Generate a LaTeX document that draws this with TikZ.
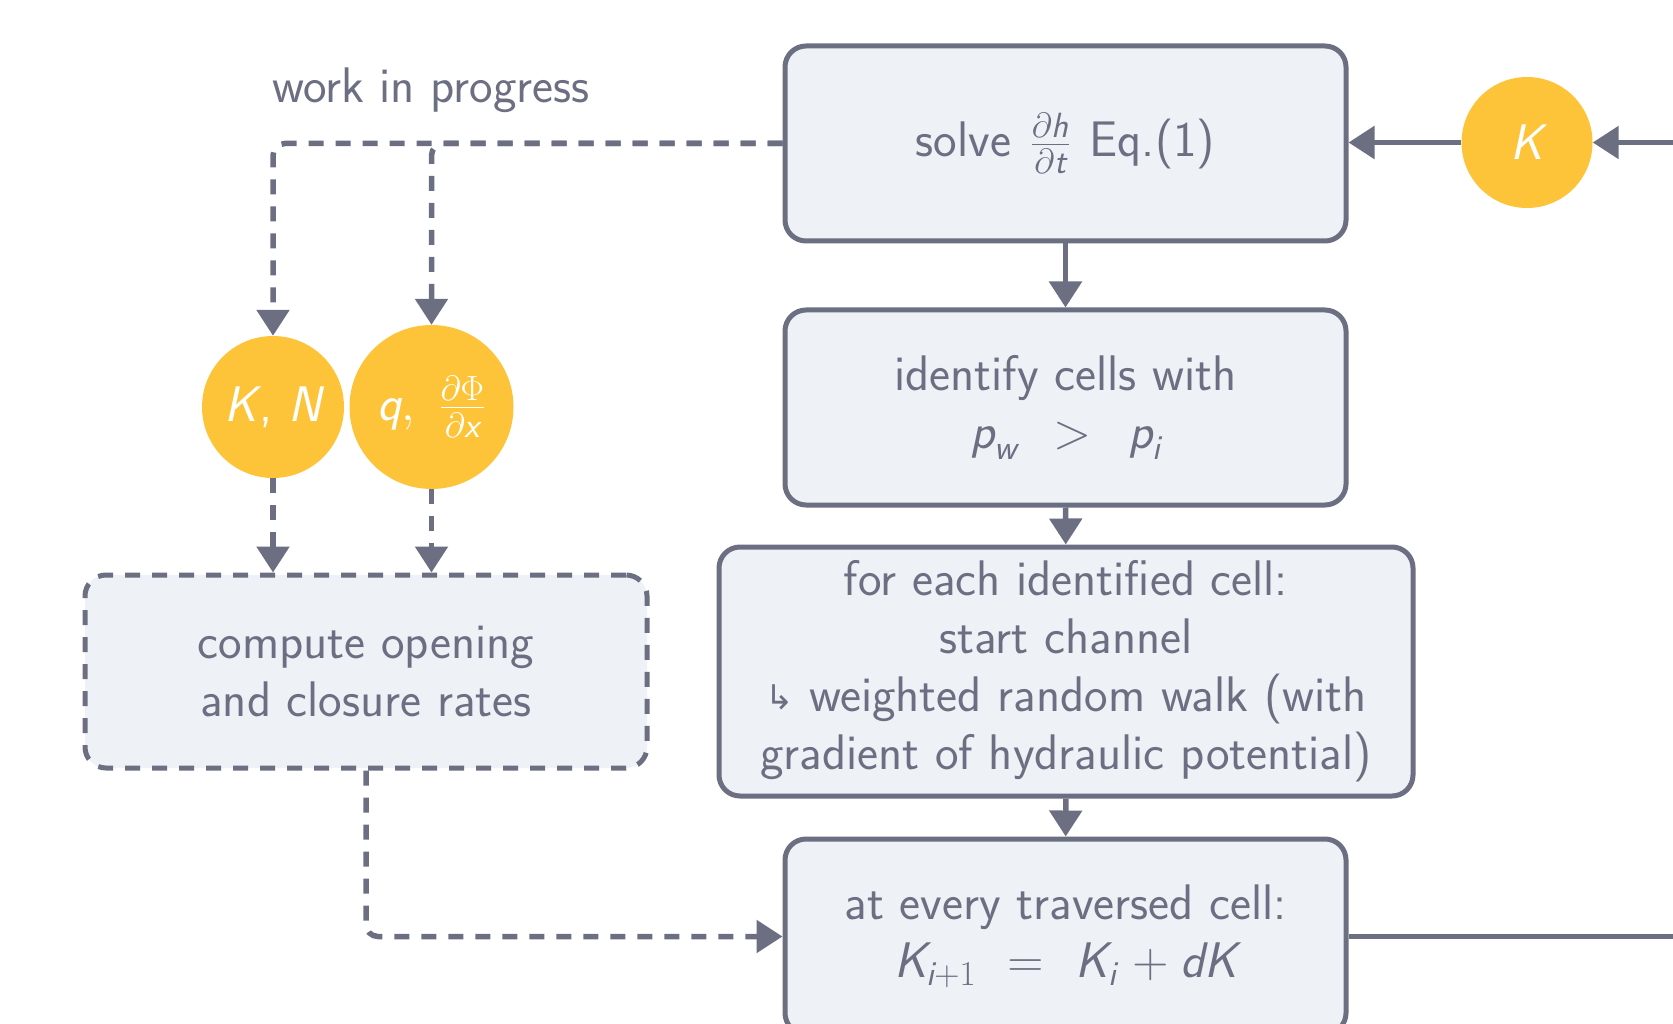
\RequirePackage{fix-cm}
\documentclass[tikz,border=0pt]{standalone}
\usepackage{fontspec}
\usepackage{amsmath}
\usetikzlibrary{arrows.meta}
\newfontfamily\symfont{DejaVu Sans}
\definecolor{linec}{RGB}{108,111,130}
\definecolor{boxfill}{RGB}{238,241,246}
\definecolor{yel}{RGB}{254,196,57}
\newcommand{\vi}[1]{\text{\itshape #1}}
\begin{document}
\begin{tikzpicture}[x=1pt,y=-1pt,
  every node/.style={font=\sffamily\fontsize{50}{58}\selectfont, text=linec},
  stepbox/.style={draw=linec, fill=boxfill, line width=5pt, rounded corners=21pt, inner sep=0pt, align=center},
  blob/.style={circle, fill=yel, text=white, inner sep=0pt},
  conn/.style={draw=linec, line width=5.5pt, -{Triangle[length=26pt,width=32pt]}},
  dconn/.style={conn, dash pattern=on 15pt off 12pt, rounded corners=12pt},
]
\useasboundingbox (0,0) rectangle (1673,1024);
\clip (0,0) rectangle (1673,1024);

\node[stepbox, minimum width=561pt, minimum height=195pt] (b1) at (1065.5,143.5)
  {solve \hspace{4pt}\(\frac{\partial\vi{h}}{\partial\vi{t}}\)\hspace{4pt} Eq.(1)};
\node[stepbox, minimum width=561pt, minimum height=195pt] (b2) at (1065.5,407.5)
  {identify cells with\\ \(\vi{p}_{\vi{w}}\hspace{0.45em}>\hspace{0.45em}\vi{p}_{\vi{i}}\)};
\node[stepbox, minimum width=694pt, minimum height=249pt] (b3) at (1066,671.5)
  {for each identified cell:\\ start channel\\ \raisebox{2pt}{\symfont\fontsize{34}{34}\selectfont ↳} weighted random walk (with\\ gradient of hydraulic potential)};
\node[stepbox, minimum width=561pt, minimum height=195pt] (b4) at (1065.5,936.5)
  {at every traversed cell:\\ \(\vi{K}_{\vi{i}+1}\hspace{0.35em}\mathrel{\text{=}}\hspace{0.35em}\vi{K}_{\vi{i}}\hspace{0.1em}\mathbin{\text{+}}\vi{d}\vi{K}\)};
\node[stepbox, dash pattern=on 15pt off 12pt, minimum width=562pt, minimum height=193pt] (cb) at (366,671.5)
  {compute opening\\ and closure rates};

\node[blob, minimum size=131pt] (k) at (1527,142.5) {\vi{K}};
\node[blob, minimum size=142pt] (kn) at (273,407) {\vi{K}\hspace{2pt}, \vi{N}};
\node[blob, minimum size=164pt] (q) at (431.5,407) {\(\vi{q},\ \frac{\partial\Phi}{\partial\vi{x}}\)};

\node[anchor=base west, inner sep=0pt] (wip) at (272,103) {work in progress};

\coordinate (rt) at (1700,142.5);
\coordinate (rb) at (1700,936.5);

\draw[conn] (b1) -- (b2);
\draw[conn] (b2) -- (b3);
\draw[conn] (b3) -- (b4);
\draw[conn] (k) -- (k -| b1.east);
\draw[conn] (rt) -- (k);
\draw[draw=linec, line width=5.5pt] (b4.east) -- (rb);

\draw[dconn] (b1.west) -| (kn.north);
\draw[dconn] (b1.west) -| (q.north);
\draw[dconn] (kn.south) -- (kn.south |- cb.north);
\draw[dconn] (q.south) -- (q.south |- cb.north);
\draw[dconn] (cb.south) |- (b4.west);
\end{tikzpicture}
\end{document}
